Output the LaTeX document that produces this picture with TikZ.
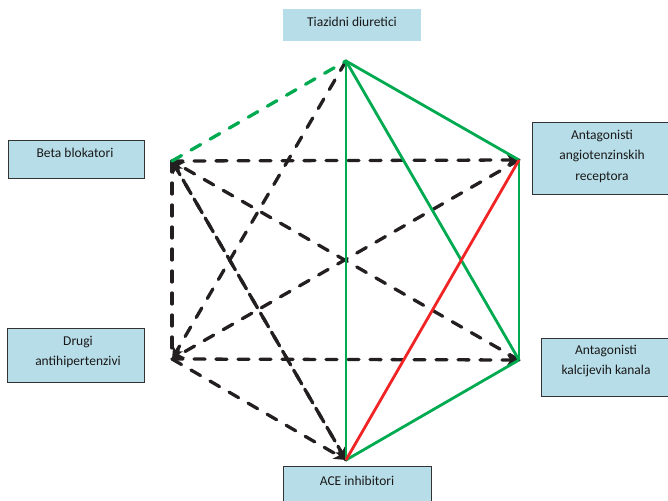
\documentclass[tikz,border=0pt]{standalone}
\usepackage{fontspec}
\setmainfont{Carlito}
\usetikzlibrary{arrows.meta}
\definecolor{boxblue}{RGB}{183,221,232}
\definecolor{lgreen}{RGB}{0,170,80}
\definecolor{lred}{RGB}{240,36,36}
\definecolor{dk}{RGB}{35,31,32}
\begin{document}
\begin{tikzpicture}[x=1pt,y=-1pt,
  boxb/.style={fill=boxblue, draw=black!80, line width=0.8pt, inner sep=0, minimum width=#1},
  boxn/.style={fill=boxblue, draw=none, inner sep=0},
  lbl/.style={font=\fontsize{13.5}{20.5}\selectfont, align=center, inner sep=0, text=black!90},
  dline/.style={dk, line width=3.3pt, line cap=round, dash pattern=on 11pt off 11pt},
  gline/.style={lgreen, line width=2.8pt},
  rline/.style={lred, line width=2.8pt},
  tipa/.style={-{Stealth[length=12pt,width=11pt,inset=3.5pt]}}
]
\useasboundingbox (0,0) rectangle (668,500);
% boxes
\node[boxn, minimum width=138pt, minimum height=32pt] (tbox) at (352,25) {};
\node[boxb=136pt, minimum height=38pt] (bbox) at (76,159) {};
\node[boxb=137pt, minimum height=54pt] (dbox) at (75.5,355) {};
\node[boxb=140pt, minimum height=72pt] (rbox) at (602,158) {};
\node[boxb=131pt, minimum height=58pt] (kbox) at (606.5,367) {};
\node[boxb=148pt, minimum height=40pt] (abox) at (357,486) {};
% labels
\node[lbl] (tl) at (352,22) {Tiazidni diuretici};
\node[lbl] (bl) at (75,153) {Beta blokatori};
\node[lbl] (dl) at (78,352) {Drugi\\antihipertenzivi};
\node[lbl] (rl) at (602,156) {Antagonisti\\angiotenzinskih\\receptora};
\node[lbl] (kl) at (606,361) {Antagonisti\\kalcijevih kanala};
\node[lbl] (al) at (357,481) {ACE inhibitori};
% vertices
\coordinate (T) at (346,61);
\coordinate (B) at (172,161);
\coordinate (D) at (172,359);
\coordinate (A) at (346,460);
\coordinate (R) at (519,160);
\coordinate (K) at (519,360);
% dashed black
\draw[dline] (B) -- (D);
\draw[dline, tipa] (B) -- (R);
\draw[dline, tipa] (D) -- (K);
\draw[dline, tipa] (K) -- (B);
\draw[dline, tipa] (A) -- (B);
\draw[dline, tipa] (R) -- (D);
\draw[dline, tipa] (T) -- (D);
\draw[dline, tipa] (B) -- (A);
\draw[dline, tipa] (D) -- (A);
% green
\draw[lgreen, line width=3.3pt, line cap=round, dash pattern=on 11pt off 11pt] (B) -- (T);
\draw[gline] (T) -- (A);
\draw[gline] (T) -- (K);
\draw[gline] (T) -- (R);
\draw[gline] (R) -- (K);
\draw[gline] (K) -- (A);
% red
\draw[rline] (R) -- (A);
\end{tikzpicture}
\end{document}
